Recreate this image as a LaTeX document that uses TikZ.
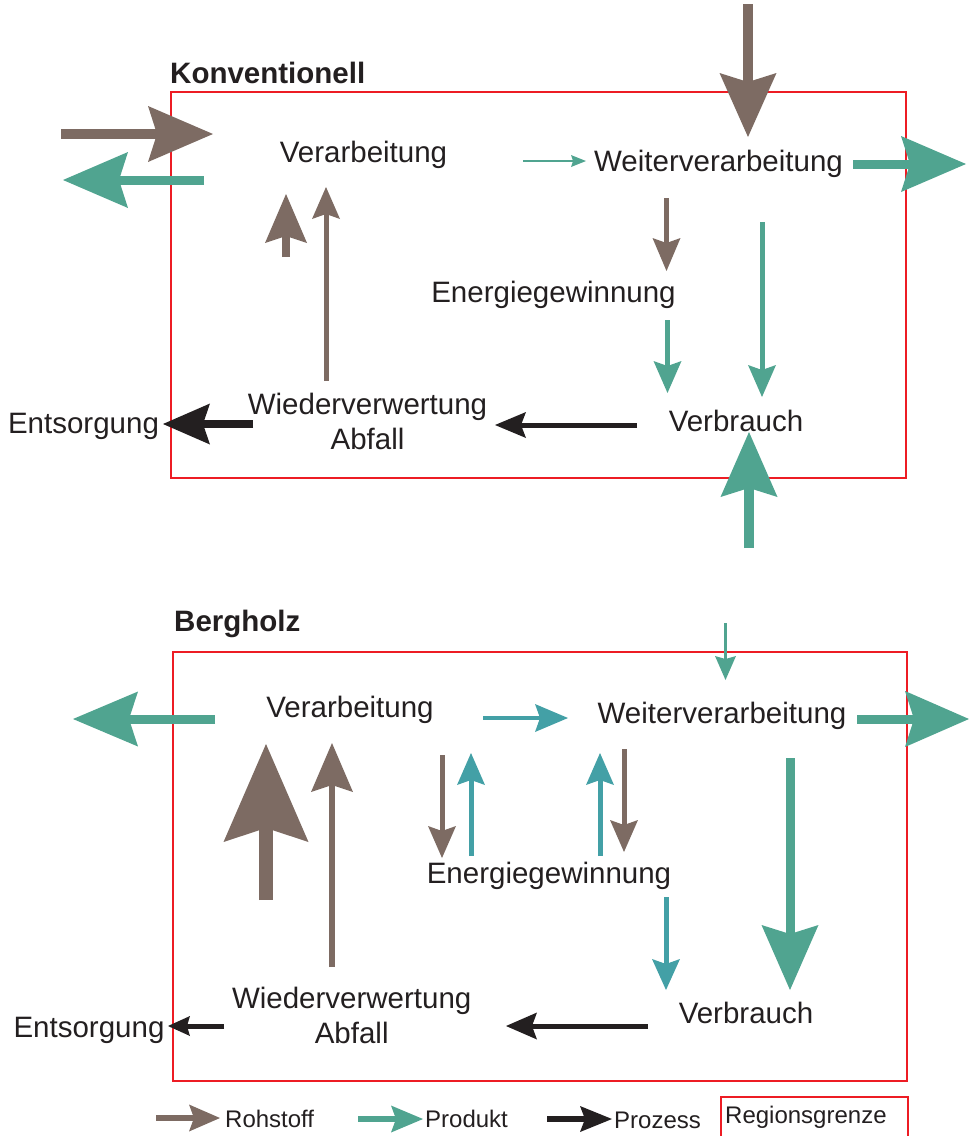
\documentclass[tikz,border=0pt]{standalone}
\usepackage{fontspec}
\setmainfont{Liberation Sans}
\usetikzlibrary{arrows.meta}
\definecolor{brn}{RGB}{125,107,99}
\definecolor{grn}{RGB}{80,164,144}
\definecolor{tealb}{RGB}{67,160,166}
\definecolor{blk}{RGB}{35,31,32}
\definecolor{rgred}{RGB}{237,28,36}
\tikzset{
  fa/.style n args={4}{line width=#1pt, -{Stealth[length=#2pt, width=#3pt, inset=#4pt, line width=0pt 0 0]}},
  lbl/.style={inner sep=0pt, text=blk, font=\fontsize{29.5}{35}\selectfont},
  ttl/.style={inner sep=0pt, text=blk, font=\fontsize{29.5}{35}\selectfont\bfseries},
  leg/.style={inner sep=0pt, text=blk, font=\fontsize{24}{28}\selectfont},
  region/.style={draw=rgred, line width=2.2pt},
}
\begin{document}
\begin{tikzpicture}[x=1pt,y=-1pt]
\useasboundingbox (0,0) rectangle (970,1136);

% ================= Konventionell =================
\node[ttl, anchor=base west] (t1) at (170,83) {Konventionell};
\draw[region] (171,92) rectangle (906,478);

\node[lbl, anchor=base] (verA) at (363.5,162) {Verarbeitung};
\node[lbl, anchor=base] (weiA) at (718.5,171) {Weiterverarbeitung};
\node[lbl, anchor=base] (eneA) at (553.5,302.5) {Energiegewinnung};
\node[lbl, anchor=base] (vbrA) at (736,431) {Verbrauch};
\node[lbl, align=center, anchor=base] (wieA) at (367.5,449) {Wiederverwertung\\Abfall};
\node[lbl, anchor=base] (entA) at (83.5,433) {Entsorgung};

\coordinate (a1s) at (61,134);   \coordinate (a1e) at (213,134);
\coordinate (a2s) at (204,180);  \coordinate (a2e) at (63,180);
\coordinate (a3s) at (286,257);  \coordinate (a3e) at (286,194);
\coordinate (a4s) at (326,381);  \coordinate (a4e) at (326,187);
\coordinate (a5s) at (523,161);  \coordinate (a5e) at (586,161);
\coordinate (a6s) at (748,4);    \coordinate (a6e) at (748,137);
\coordinate (a7s) at (853,164);  \coordinate (a7e) at (966,164);
\coordinate (a8s) at (666.5,198);  \coordinate (a8e) at (666.5,271);
\coordinate (a9s) at (762,222);  \coordinate (a9e) at (762,397);
\coordinate (a10s) at (667.5,320); \coordinate (a10e) at (667.5,393);
\coordinate (a11s) at (637,425); \coordinate (a11e) at (495,425);
\coordinate (a12s) at (253,424); \coordinate (a12e) at (163,424);
\coordinate (a13s) at (749,548); \coordinate (a13e) at (749,432);

\draw[brn, fa={10}{65}{56}{9}] (a1s) -- (a1e);
\draw[grn, fa={9}{65}{56}{9}] (a2s) -- (a2e);
\draw[brn, fa={8}{49}{42}{7}] (a3s) -- (a3e);
\draw[brn, fa={5}{32}{28}{5}] (a4s) -- (a4e);
\draw[grn, fa={2.2}{15}{12}{2}] (a5s) -- (a5e);
\draw[brn, fa={9.5}{64}{57}{9}] (a6s) -- (a6e);
\draw[grn, fa={9}{65}{56}{9}] (a7s) -- (a7e);
\draw[brn, fa={5}{33}{28}{5}] (a8s) -- (a8e);
\draw[grn, fa={5}{32}{28}{5}] (a9s) -- (a9e);
\draw[grn, fa={5}{32}{28}{5}] (a10s) -- (a10e);
\draw[blk, fa={5}{31}{26}{5}] (a11s) -- (a11e);
\draw[blk, fa={8}{47}{41}{7}] (a12s) -- (a12e);
\draw[grn, fa={9.5}{65}{57}{9}] (a13s) -- (a13e);

% ================= Bergholz =================
\node[ttl, anchor=base west] (t2) at (174,631) {Bergholz};
\draw[region] (173,652) rectangle (907,1081);

\node[lbl, anchor=base] (verB) at (350,717) {Verarbeitung};
\node[lbl, anchor=base] (weiB) at (722,723) {Weiterverarbeitung};
\node[lbl, anchor=base] (eneB) at (549,883) {Energiegewinnung};
\node[lbl, anchor=base] (vbrB) at (746,1023) {Verbrauch};
\node[lbl, align=center, anchor=base] (wieB) at (351.7,1043) {Wiederverwertung\\Abfall};
\node[lbl, anchor=base] (entB) at (89,1037) {Entsorgung};

\coordinate (b1s) at (215,719);  \coordinate (b1e) at (73,719);
\coordinate (b2s) at (266,900);  \coordinate (b2e) at (266,744);
\coordinate (b3s) at (332,967);  \coordinate (b3e) at (332,743);
\coordinate (b4s) at (725.5,623); \coordinate (b4e) at (725.5,680);
\coordinate (b5s) at (483,718);  \coordinate (b5e) at (568,718);
\coordinate (b6s) at (857,719);  \coordinate (b6e) at (969,719);
\coordinate (b7s) at (442,755);  \coordinate (b7e) at (442,858);
\coordinate (b8s) at (471,856);  \coordinate (b8e) at (471,753);
\coordinate (b9s) at (600,856);  \coordinate (b9e) at (600,753);
\coordinate (b10s) at (624,749); \coordinate (b10e) at (624,852);
\coordinate (b11s) at (790,758); \coordinate (b11e) at (790,990);
\coordinate (b12s) at (666,897); \coordinate (b12e) at (666,990);
\coordinate (b13s) at (648,1026); \coordinate (b13e) at (506,1026);
\coordinate (b14s) at (224,1026); \coordinate (b14e) at (168,1026);

\draw[grn, fa={9}{65}{55}{9}] (b1s) -- (b1e);
\draw[brn, fa={14}{98}{85}{14}] (b2s) -- (b2e);
\draw[brn, fa={6.7}{49}{42}{7}] (b3s) -- (b3e);
\draw[grn, fa={3}{24}{21}{3}] (b4s) -- (b4e);
\draw[tealb, fa={4.5}{33}{28}{5}] (b5s) -- (b5e);
\draw[grn, fa={9}{64}{56}{9}] (b6s) -- (b6e);
\draw[brn, fa={5}{32}{28}{5}] (b7s) -- (b7e);
\draw[tealb, fa={5}{32}{28}{5}] (b8s) -- (b8e);
\draw[tealb, fa={5}{32}{28}{5}] (b9s) -- (b9e);
\draw[brn, fa={5}{32}{28}{5}] (b10s) -- (b10e);
\draw[grn, fa={9}{65}{57}{9}] (b11s) -- (b11e);
\draw[tealb, fa={5}{31}{28}{5}] (b12s) -- (b12e);
\draw[blk, fa={5}{31}{27}{5}] (b13s) -- (b13e);
\draw[blk, fa={5}{22}{20}{3}] (b14s) -- (b14e);

% ================= Legend =================
\coordinate (l1s) at (156,1118); \coordinate (l1e) at (220,1118);
\coordinate (l2s) at (358,1119); \coordinate (l2e) at (423,1119);
\coordinate (l3s) at (547,1119); \coordinate (l3e) at (612,1119);
\draw[brn, fa={6}{31}{27}{5}] (l1s) -- (l1e);
\draw[grn, fa={6}{32}{27}{5}] (l2s) -- (l2e);
\draw[blk, fa={6}{32}{26}{5}] (l3s) -- (l3e);
\node[leg, anchor=base west] (lr) at (225,1127) {Rohstoff};
\node[leg, anchor=base west] (lp) at (425,1127) {Produkt};
\node[leg, anchor=base west] (lz) at (614,1128) {Prozess};
\draw[region] (721,1097) rectangle (908,1145);
\node[leg, anchor=base west] (lg) at (725,1123) {Regionsgrenze};
\end{tikzpicture}
\end{document}
